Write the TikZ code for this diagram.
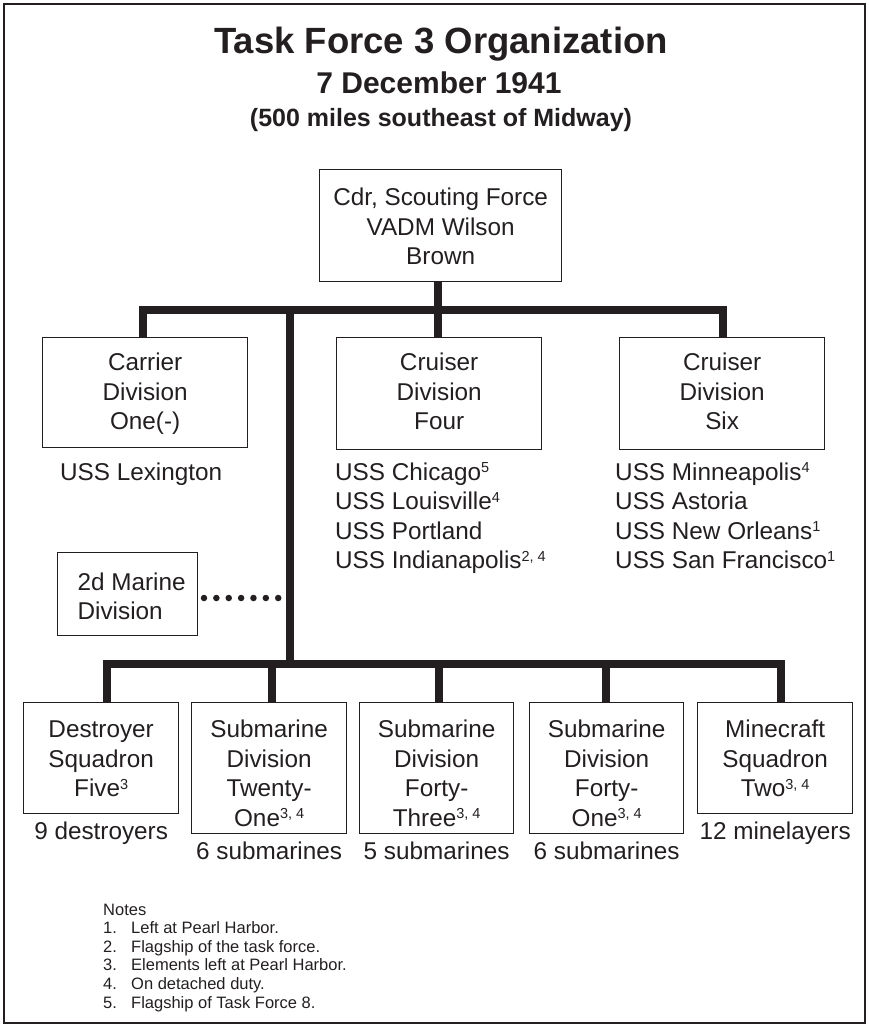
\documentclass[tikz,border=0pt]{standalone}
\usepackage{fontspec}
\setmainfont{Liberation Sans}
\definecolor{ink}{HTML}{231F20}
\newcommand{\sps}[1]{\raisebox{7.5pt}{\fontsize{14.5}{14.5}\selectfont #1}}
\newcommand{\bx}[4]{\parbox[c][#2][t]{#1}{\centering\rule{0pt}{#3}#4}}
\tikzset{
  body/.style={font=\fontsize{24.3}{29.5}\selectfont, text=ink, inner sep=0pt},
  unitbox/.style={body, draw=ink, line width=1.3pt, anchor=north west},
  lab/.style={body, anchor=base},
  shiplist/.style={body, anchor=base west},
  bus/.style={draw=ink, line width=7.5pt, line join=miter, line cap=butt},
  dotline/.style={draw=ink, line width=6.5pt, line cap=round, dash pattern=on 0pt off 12.37pt},
  ttl/.style={text=ink, inner sep=0pt, anchor=base}
}
\begin{document}
\begin{tikzpicture}[x=1pt,y=-1pt]
\useasboundingbox (0,0) rectangle (868,1026);
\draw[ink, line width=2pt] (4,4) rectangle (865,1023);

% titles
\node[ttl, font=\fontsize{36.5}{40}\selectfont\bfseries] (t1) at (441,53) {Task Force 3 Organization};
\node[ttl, font=\fontsize{30}{34}\selectfont\bfseries] (t2) at (439,93) {7 December 1941};
\node[ttl, font=\fontsize{25}{29}\selectfont\bfseries] (t3) at (441,126) {(500 miles southeast of Midway)};

% boxes
\node[unitbox] (cdr) at (319,169) {\bx{242pt}{112pt}{36pt}{Cdr, Scouting Force\\VADM Wilson\\Brown}};
\node[unitbox] (carrier) at (42,337) {\bx{205pt}{110pt}{33pt}{Carrier\\Division\\One(-)}};
\node[unitbox] (cru4) at (336,337) {\bx{205pt}{112pt}{33pt}{Cruiser\\Division\\Four}};
\node[unitbox] (cru6) at (619,337) {\bx{205pt}{112pt}{33pt}{Cruiser\\Division\\Six}};
\node[unitbox] (marine) at (57,552) {\parbox[c][83pt][t]{140pt}{\fontsize{24.3}{28.5}\selectfont\raggedright\leftskip=20pt\rule{0pt}{38pt}2d Marine\\Division}};
\node[unitbox] (dest) at (23,702) {\bx{155pt}{111pt}{35pt}{Destroyer\\Squadron\\Five\sps{3}}};
\node[unitbox] (sub21) at (191,702) {\bx{155pt}{131pt}{35pt}{Submarine\\Division\\Twenty-\\One\sps{3, 4}}};
\node[unitbox] (sub43) at (359,702) {\bx{154pt}{131pt}{35pt}{Submarine\\Division\\Forty-\\Three\sps{3, 4}}};
\node[unitbox] (sub41) at (529,702) {\bx{154pt}{131pt}{35pt}{Submarine\\Division\\Forty-\\One\sps{3, 4}}};
\node[unitbox] (mine) at (697,702) {\bx{155pt}{111pt}{35pt}{Minecraft\\Squadron\\Two\sps{3, 4}}};

% labels under boxes
\node[lab] (lex) at ([xshift=-4pt,yshift=-32pt]carrier.south) {USS Lexington};
\node[shiplist] (list4) at ([xshift=-1pt,yshift=-30pt]cru4.south west) {\parbox[t]{230pt}{\raggedright USS Chicago\sps{5}\\USS Louisville\sps{4}\\USS Portland\\USS Indianapolis\sps{2, 4}}};
\node[shiplist] (list6) at ([xshift=-4pt,yshift=-30pt]cru6.south west) {\parbox[t]{240pt}{\raggedright USS Minneapolis\sps{4}\\USS Astoria\\USS New Orleans\sps{1}\\USS San Francisco\sps{1}}};
\node[lab] (dlab) at ([yshift=-25pt]dest.south) {9 destroyers};
\node[lab] (s21lab) at ([yshift=-25pt]sub21.south) {6 submarines};
\node[lab] (s43lab) at ([yshift=-25pt]sub43.south) {5 submarines};
\node[lab] (s41lab) at ([yshift=-25pt]sub41.south) {6 submarines};
\node[lab] (mlab) at ([yshift=-25pt]mine.south) {12 minelayers};

% connectors
\coordinate (cb1) at (143,310);
\coordinate (cb2) at (438,310);
\coordinate (cb3) at (723,310);
\coordinate (tr) at (290,310);
\coordinate (lt) at (290,664);
\coordinate (lb1) at (107,664);
\coordinate (lb2) at (272,664);
\coordinate (lb3) at (439,664);
\coordinate (lb4) at (606,664);
\coordinate (lb5) at (781,664);
\draw[bus] (cb1 |- carrier.north) -- (cb1) -- (cb3) -- (cb3 |- cru6.north);
\draw[bus] (cb2 |- cdr.south) -- (cb2 |- cru4.north);
\draw[bus] (tr) -- (lt);
\draw[bus] (lb1 |- dest.north) -- (lb1) -- (lb5) -- (lb5 |- mine.north);
\draw[bus] (lb2) -- (lb2 |- sub21.north);
\draw[bus] (lb3) -- (lb3 |- sub43.north);
\draw[bus] (lb4) -- (lb4 |- sub41.north);

% dotted link
\coordinate (d0) at (204,598);
\coordinate (d1) at (278.4,598);
\draw[dotline] (d0) -- (d1);

% notes
\node[anchor=base west, inner sep=0pt, text=ink] (notes) at (103,915) {\parbox[t]{400pt}{\fontsize{16.5}{18.6}\selectfont\raggedright
Notes\\
\makebox[28pt][l]{1.}Left at Pearl Harbor.\\
\makebox[28pt][l]{2.}Flagship of the task force.\\
\makebox[28pt][l]{3.}Elements left at Pearl Harbor.\\
\makebox[28pt][l]{4.}On detached duty.\\
\makebox[28pt][l]{5.}Flagship of Task Force 8.}};
\end{tikzpicture}
\end{document}
